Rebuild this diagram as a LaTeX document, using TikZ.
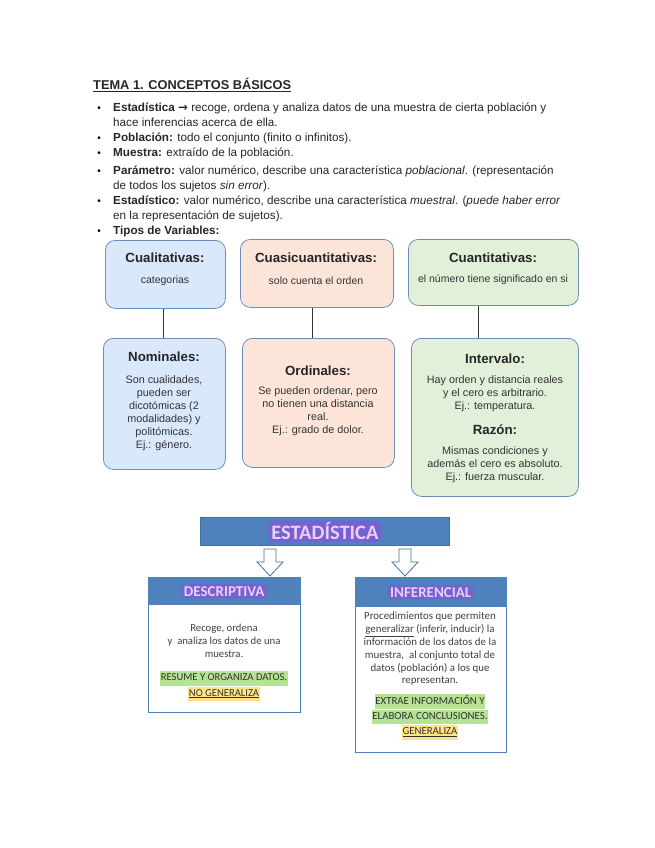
\documentclass[tikz,border=0pt]{standalone}
\usepackage{fontspec}
\setmainfont{Liberation Sans}
\newfontfamily\calibri{Carlito}
\newfontfamily\arrowfont{DejaVu Sans}

\definecolor{edge}{HTML}{6C8EBF}
\definecolor{fillblue}{HTML}{DAE8FC}
\definecolor{fillpeach}{HTML}{FCE5D8}
\definecolor{fillgreen}{HTML}{E2F0D9}
\definecolor{headblue}{HTML}{4F81BD}
\definecolor{headedge}{HTML}{41719C}
\definecolor{lavtext}{HTML}{F0CCF2}
\definecolor{lavmark}{HTML}{7262D4}
\definecolor{hlgreen}{HTML}{B4E394}
\definecolor{hlyellow}{HTML}{FFE486}
\definecolor{bodytext}{HTML}{404040}

\newcommand{\hlg}[1]{{\fboxsep=0.8pt\colorbox{hlgreen}{\strut #1}}}
\newcommand{\hly}[1]{{\fboxsep=0.8pt\colorbox{hlyellow}{\strut #1}}}
\newcommand{\titlemark}[1]{\tikz[baseline=(m.base)]\node[fill=lavmark,rounded corners=7pt,inner xsep=3pt,inner ysep=2pt,text=lavtext](m){#1};}

\begin{document}
\begin{tikzpicture}[x=1pt,y=-1pt,
    txt/.style={anchor=base west, inner sep=0pt, font=\fontsize{11.7}{15}\selectfont, text=black!85},
    dot/.style={anchor=base, inner sep=0pt, font=\fontsize{10}{12}\selectfont},
    typebox/.style={draw=edge, line width=0.8pt, rounded corners=10pt, anchor=north west, inner sep=0pt},
    boxtitle/.style={inner sep=0pt, font=\bfseries\fontsize{13.3}{14}\selectfont, text=black!85},
    boxsub/.style={inner sep=0pt, font=\fontsize{10.5}{12}\selectfont, text=black!80},
    boxbody/.style={inner sep=0pt, align=center, font=\fontsize{10.8}{13}\selectfont, text=black!80},
    link/.style={black!80, line width=1pt},
    bigbox/.style={draw=headedge, fill=headblue, line width=0.8pt, anchor=north west, inner sep=0pt},
    panel/.style={draw=headblue, fill=white, line width=0.8pt, anchor=north west, inner sep=0pt},
    panelhead/.style={fill=headblue, anchor=north west, inner sep=0pt},
    paneltext/.style={inner sep=0pt, align=center, font=\calibri\fontsize{10.9}{12.8}\selectfont, text=bodytext},
    hollowarrow/.style={draw=headedge, fill=white, line width=0.8pt, line join=miter}]
  \useasboundingbox (0,0) rectangle (655,848);

  % heading and list
  \node[txt, font=\bfseries\fontsize{12.8}{14}\selectfont] (tema) at (93,90) {\underline{TEMA 1. CONCEPTOS BÁSICOS}};

  \foreach \yy in {112,142,157,174,204,234}{
    \node[dot] at (99,\yy) {\textbullet};
  }
  \node[txt] (l1) at (113,112) {\textbf{Estadística {\arrowfont\bfseries →}} recoge, ordena y analiza datos de una muestra de cierta población y};
  \node[txt] (l2) at (113,127) {hace inferencias acerca de ella.};
  \node[txt] (l3) at (113,142) {\textbf{Población:} todo el conjunto (finito o infinitos).};
  \node[txt] (l4) at (113,157) {\textbf{Muestra:} extraído de la población.};
  \node[txt] (l5) at (113,174) {\textbf{Parámetro:} valor numérico, describe una característica \textit{poblacional}. (representación};
  \node[txt] (l6) at (113,189) {de todos los sujetos \textit{sin error}).};
  \node[txt] (l7) at (113,204) {\textbf{Estadístico:} valor numérico, describe una característica \textit{muestral}. (\textit{puede haber error}};
  \node[txt] (l8) at (113,219) {en la representación de sujetos).};
  \node[txt] (l9) at (113,234) {\textbf{Tipos de Variables:}};

  % types of variables
  \node[typebox, fill=fillblue, minimum width=120, minimum height=68] (cual) at (105,240) {};
  \node[typebox, fill=fillpeach, minimum width=153, minimum height=68] (cuasi) at (240,239) {};
  \node[typebox, fill=fillgreen, minimum width=170, minimum height=66] (cuant) at (408,239) {};

  \node[boxtitle] (cualt) at (165,258) {Cualitativas:};
  \node[boxsub] (cuals) at (165,281) {categorias};
  \node[boxtitle] (cuasit) at (316,258) {Cuasicuantitativas:};
  \node[boxsub] (cuasis) at (316,281) {solo cuenta el orden};
  \node[boxtitle] (cuantt) at (493,258) {Cuantitativas:};
  \node[boxsub] (cuants) at (493,280) {el número tiene significado en si};

  \node[typebox, fill=fillblue, minimum width=122, minimum height=131] (nom) at (103,338) {};
  \node[typebox, fill=fillpeach, minimum width=152, minimum height=129] (ord) at (242,338) {};
  \node[typebox, fill=fillgreen, minimum width=167, minimum height=158] (inter) at (411,338) {};

  \node[boxtitle] (nomt) at (164,357) {Nominales:};
  \node[boxbody] (nomb) at (164,413) {Son cualidades,\\pueden ser\\dicotómicas (2\\modalidades) y\\politómicas.\\Ej.: género.};
  \node[boxtitle] (ordt) at (318,371) {Ordinales:};
  \node[boxbody] (ordb) at (318,411) {Se pueden ordenar, pero\\no tienen una distancia\\real.\\Ej.: grado de dolor.};
  \node[boxtitle] (intt) at (495,359) {Intervalo:};
  \node[boxbody] (intb) at (495,394) {Hay orden y distancia reales\\y el cero es arbitrario.\\Ej.: temperatura.};
  \node[boxtitle] (razt) at (495,430) {Razón:};
  \node[boxbody] (razb) at (495,465) {Mismas condiciones y\\además el cero es absoluto.\\Ej.: fuerza muscular.};

  \draw[link] ([xshift=-1pt]nom.north |- cual.south) -- ([xshift=-1pt]nom.north);
  \draw[link] ([xshift=-6pt]ord.north |- cuasi.south) -- ([xshift=-6pt]ord.north);
  \draw[link] ([xshift=-16pt]inter.north |- cuant.south) -- ([xshift=-16pt]inter.north);

  % estadistica map
  \node[bigbox, minimum width=249, minimum height=28] (est) at (200,517) {};
  \node[inner sep=0pt, font=\calibri\bfseries\fontsize{20.5}{21}\selectfont] (estt) at (est.center) {\titlemark{ESTADÍSTICA}};

  \foreach \ax in {270,405}{
    \draw[hollowarrow] (\ax-6,549) -- (\ax+6,549) -- (\ax+6,562) -- (\ax+13,562)
      -- (\ax,576) -- (\ax-13,562) -- (\ax-6,562) -- cycle;
  }

  \node[panel, minimum width=152, minimum height=135] (desc) at (148,577) {};
  \node[panelhead, minimum width=152, minimum height=28] (desch) at (148,577) {};
  \node[inner sep=0pt, font=\calibri\bfseries\fontsize{15}{16}\selectfont] (desct) at (desch.center) {\titlemark{DESCRIPTIVA}};
  \node[paneltext, font=\calibri\fontsize{10.7}{13}\selectfont] (descb) at (224,641) {Recoge, ordena\\y\ \ analiza los datos de una\\muestra.};
  \node[paneltext, font=\calibri\fontsize{10.6}{12.5}\selectfont, text=black!80] (descn) at (224,686) {\hlg{RESUME Y ORGANIZA DATOS.}\\\hly{\underline{NO GENERALIZA}}};

  \node[panel, minimum width=151, minimum height=175] (inf) at (355,577) {};
  \node[panelhead, minimum width=151, minimum height=30] (infh) at (355,577) {};
  \node[inner sep=0pt, font=\calibri\bfseries\fontsize{15}{16}\selectfont] (inft) at (infh.center) {\titlemark{INFERENCIAL}};
  \node[paneltext] (infb) at (430,649) {Procedimientos que permiten\\\underline{generalizar} (inferir, inducir) la\\información de los datos de la\\muestra,\ \ al conjunto total de\\datos (población) a los que\\representan.};
  \node[paneltext, font=\calibri\fontsize{10.8}{12.8}\selectfont, text=black!80] (infn) at (430,717) {\hlg{EXTRAE INFORMACIÓN Y}\\\hlg{ELABORA CONCLUSIONES.}\\\hly{\underline{GENERALIZA}}};
\end{tikzpicture}
\end{document}
